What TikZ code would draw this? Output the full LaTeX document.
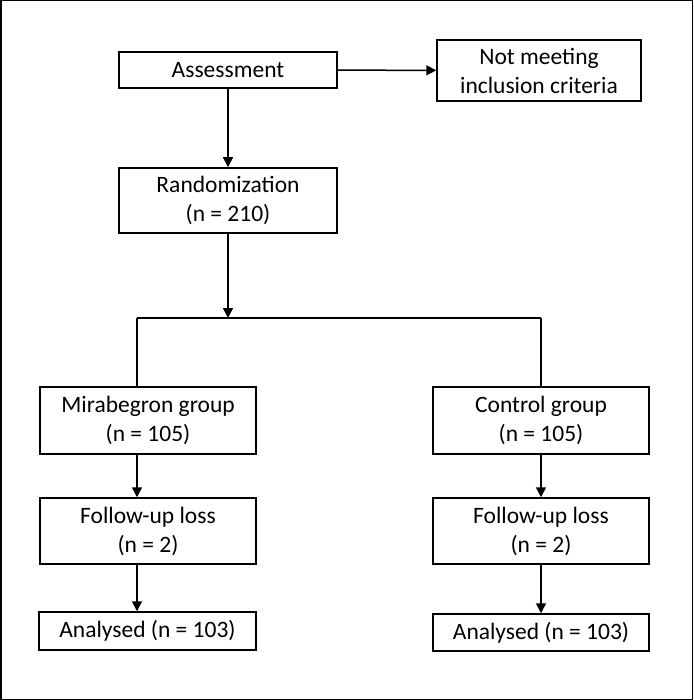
\documentclass[tikz,border=0pt]{standalone}
\usepackage{fontspec}
\setmainfont{Carlito}
\usetikzlibrary{arrows.meta}
\begin{document}
\begin{tikzpicture}[x=1pt,y=-1pt,
  box/.style={draw,line width=1.5pt,inner sep=0pt,align=center,font=\fontsize{23.5}{29}\selectfont},
  arr/.style={line width=1.5pt,-{Triangle[length=10pt,width=10pt]}},
  ln/.style={line width=1.5pt}]
\draw[line width=1.5pt] (0.75,0.75) rectangle (692.25,699.25);
\useasboundingbox (0,0) rectangle (693,700);
\node[box,minimum width=218pt,minimum height=36pt] (ass) at (228,70) {Assessment};
\node[box,minimum width=204pt,minimum height=61pt] (not) at (539,70.5) {Not meeting\\inclusion criteria};
\node[box,minimum width=218pt,minimum height=65pt] (rand) at (228,200.5) {Randomization\\(n = 210)};
\node[box,minimum width=216pt,minimum height=67pt] (mir) at (148,420.5) {Mirabegron group\\(n = 105)};
\node[box,minimum width=216pt,minimum height=67pt] (ctl) at (541,420.5) {Control group\\(n = 105)};
\node[box,minimum width=216pt,minimum height=66pt] (fu1) at (148,531) {Follow-up loss\\(n = 2)};
\node[box,minimum width=216pt,minimum height=66pt] (fu2) at (541,531) {Follow-up loss\\(n = 2)};
\node[box,minimum width=217pt,minimum height=38pt] (an1) at (147.5,631) {Analysed (n = 103)};
\node[box,minimum width=216pt,minimum height=37pt] (an2) at (541,632.5) {Analysed (n = 103)};
\coordinate (split) at (228,318);
\coordinate (sl) at (137,318);
\coordinate (sr) at (541,318);
\draw[arr] (ass) -- (not);
\draw[arr] (ass) -- (rand);
\draw[arr] (rand) -- (split);
\draw[ln] (sl) -- (sr);
\draw[ln] (sl) -- (sl |- mir.north);
\draw[ln] (sr) -- (ctl.north);
\draw[arr] (mir.south -| sl) -- (fu1.north -| sl);
\draw[arr] (fu1.south -| sl) -- (an1.north -| sl);
\draw[arr] (ctl) -- (fu2);
\draw[arr] (fu2) -- (an2);
\end{tikzpicture}
\end{document}
